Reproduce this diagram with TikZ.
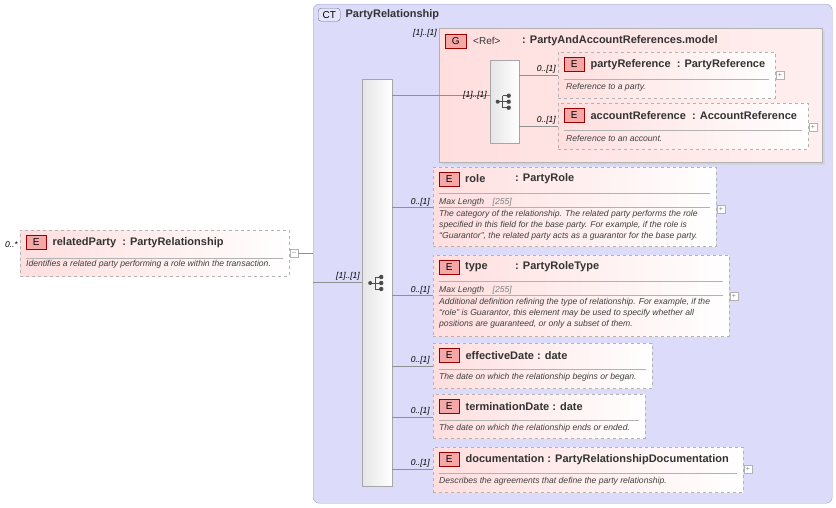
\documentclass[tikz,border=0pt]{standalone}
\usepackage{fontspec}
\setmainfont{Liberation Sans}
\usetikzlibrary{positioning,shadows}
\definecolor{ctfill}{HTML}{DCDCFA}
\definecolor{ctline}{HTML}{A0A0C8}
\definecolor{efill}{HTML}{FFDEDE}
\definecolor{badge}{HTML}{F4A8A8}
\definecolor{wire}{HTML}{909090}
\begin{document}
\begin{tikzpicture}[x=1pt,y=-1pt,
    elem/.style={rectangle, draw=gray!60, dashed, left color=efill, right color=white, anchor=north west, inner sep=0pt},
    badgebox/.style={rectangle, draw=red!60!black, fill=badge, anchor=north west, minimum width=20pt, minimum height=14pt, inner sep=0pt, font=\fontsize{10}{10}\selectfont},
    title/.style={anchor=west, inner sep=0pt, font=\bfseries\fontsize{11}{11}\selectfont, text=black!80},
    desc/.style={anchor=west, inner sep=0pt, font=\itshape\fontsize{8.6}{11}\selectfont, text=black!75},
    card/.style={anchor=east, inner sep=0pt, font=\itshape\fontsize{8.5}{8.5}\selectfont},
    seq/.style={rectangle, draw=gray!70, left color=gray!20, right color=white, anchor=north west, inner sep=0pt},
    plusbox/.style={rectangle, draw=gray!60, fill=white, minimum size=8pt, inner sep=0pt, font=\fontsize{7}{7}\selectfont, text=gray},
    hsep/.style={draw=gray!60},
    wirel/.style={draw=wire},
    seqicon/.pic={
        \fill [black!70] (-7,0) circle (2pt);
        \draw [black!70, line width=0.9pt] (-7,0) -- (-2,0) (-2,-6) -- (-2,6) (-2,-6) -- (4,-6) (-2,0) -- (4,0) (-2,6) -- (4,6);
        \foreach \yy in {-6,0,6} \fill [black!70] (4,\yy) circle (2.2pt);
    }
]
\useasboundingbox (0,0) rectangle (836,507);

% complex type container
\node [rectangle, rounded corners=6pt, draw=ctline, fill=ctfill, anchor=north west, minimum width=519pt, minimum height=499pt, inner sep=0pt] (ct) at (313,4) {};
\node [rectangle, rounded corners=3pt, draw=ctline!70!black, fill=ctfill!70, anchor=north west, minimum width=22pt, minimum height=13pt, inner sep=0pt, font=\fontsize{10}{10}\selectfont] (ctbadge) at (318,8) {CT};
\node [title, right=5pt of ctbadge] {PartyRelationship};

% related party
\node [elem, minimum width=269pt, minimum height=46pt] (rel) at (20,230) {};
\node [badgebox] (relE) at (26,235) {E};
\node [title, right=6pt of relE] {relatedParty\ \ : PartyRelationship};
\draw [hsep] (26,258) -- (283,258);
\node [desc] at (26,264) {Identifies a related party performing a role within the transaction.};
\node [card] at (18,245) {0..*};
\node [plusbox] (relminus) at (294,253) {--};
\draw [wirel] (relminus.east) -- (ct.west |- relminus);

% main sequence
\node [seq, minimum width=30pt, minimum height=407pt] (mseq) at (362,79) {};
\pic at (mseq.center |- 0,283) {seqicon};
\draw [wirel] (ct.west |- 0,282) -- (mseq.west |- 0,282);
\node [card] at (360,276) {[1]..[1]};

% group
\node [rectangle, draw=gray!60, left color=efill, right color=efill!50, anchor=north west, minimum width=383pt, minimum height=134pt, inner sep=0pt, drop shadow={shadow xshift=3pt, shadow yshift=-3pt, fill=gray!40}] (grp) at (439,28) {};
\node [card] at (437,33) {[1]..[1]};
\node [badgebox, minimum width=21pt] (grpG) at (445,34) {G};
\node [title, font=\fontsize{10}{10}\selectfont] at (473,41) {<Ref>};
\node [title] at (522,41) {: PartyAndAccountReferences.model};
\node [seq, minimum width=29pt, minimum height=83pt] (iseq) at (490,60) {};
\pic at (iseq.center) {seqicon};
\draw [wirel] (mseq.east |- 0,95) -- (iseq.west |- 0,95);
\node [card] at (487,95) {[1]..[1]};

% partyReference
\node [elem, minimum width=217pt, minimum height=46pt] (pref) at (558,52) {};
\node [badgebox] (prefE) at (564,57) {E};
\node [title, right=6pt of prefE] {partyReference\ \ : PartyReference};
\draw [hsep] (564,79) -- (769,79);
\node [desc] at (566,87) {Reference to a party.};
\node [plusbox] at (780,75) {+};
\draw [wirel] (iseq.east |- 0,75) -- (pref.west |- 0,75);
\node [card] at (556,69) {0..[1]};

% accountReference
\node [elem, minimum width=250pt, minimum height=46pt] (aref) at (558,103) {};
\node [badgebox] (arefE) at (564,108) {E};
\node [title, right=6pt of arefE] {accountReference\ \ : AccountReference};
\draw [hsep] (564,130) -- (802,130);
\node [desc] at (566,138) {Reference to an account.};
\node [plusbox] at (813,127) {+};
\draw [wirel] (iseq.east |- 0,126) -- (aref.west |- 0,126);
\node [card] at (556,120) {0..[1]};

% role
\node [elem, minimum width=283pt, minimum height=79pt] (role) at (433,167) {};
\node [badgebox] (roleE) at (439,172) {E};
\node [title] at (465,179) {role};
\node [title] at (515,179) {: PartyRole};
\draw [hsep] (439,193) -- (710,193);
\node [desc] at (439,202) {Max Length\quad \textcolor{gray}{[255]}};
\draw [hsep] (439,207) -- (710,207);
\node [desc, align=left, anchor=north west] at (439,210) {The category of the relationship. The related party performs the role\\specified in this field for the base party. For example, if the role is\\``Guarantor'', the related party acts as a guarantor for the base party.};
\node [plusbox] at (721,209) {+};
\draw [wirel] (mseq.east |- 0,207) -- (role.west |- 0,207);
\node [card] at (430,202) {0..[1]};

% type
\node [elem, minimum width=296pt, minimum height=81pt] (type) at (433,255) {};
\node [badgebox] (typeE) at (439,260) {E};
\node [title] at (465,267) {type};
\node [title] at (515,267) {: PartyRoleType};
\draw [hsep] (439,281) -- (723,281);
\node [desc] at (439,290) {Max Length\quad \textcolor{gray}{[255]}};
\draw [hsep] (439,295) -- (723,295);
\node [desc, align=left, anchor=north west] at (439,298) {Additional definition refining the type of relationship. For example, if the\\``role'' is Guarantor, this element may be used to specify whether all\\positions are guaranteed, or only a subset of them.};
\node [plusbox] at (734,296) {+};
\draw [wirel] (mseq.east |- 0,295) -- (type.west |- 0,295);
\node [card] at (430,290) {0..[1]};

% effectiveDate
\node [elem, minimum width=219pt, minimum height=45pt] (eff) at (433,343) {};
\node [badgebox] (effE) at (439,348) {E};
\node [title, right=6pt of effE] {effectiveDate\ : date};
\draw [hsep] (439,369) -- (646,369);
\node [desc] at (439,377) {The date on which the relationship begins or began.};
\draw [wirel] (mseq.east |- 0,366) -- (eff.west |- 0,366);
\node [card] at (430,360) {0..[1]};

% terminationDate
\node [elem, minimum width=212pt, minimum height=44pt] (term) at (433,394) {};
\node [badgebox] (termE) at (439,399) {E};
\node [title, right=6pt of termE] {terminationDate\ : date};
\draw [hsep] (439,420) -- (639,420);
\node [desc] at (439,428) {The date on which the relationship ends or ended.};
\draw [wirel] (mseq.east |- 0,417) -- (term.west |- 0,417);
\node [card] at (430,411) {0..[1]};

% documentation
\node [elem, minimum width=310pt, minimum height=45pt] (doc) at (433,447) {};
\node [badgebox] (docE) at (439,452) {E};
\node [title, right=6pt of docE] {documentation\ : PartyRelationshipDocumentation};
\draw [hsep] (439,473) -- (737,473);
\node [desc] at (439,481) {Describes the agreements that define the party relationship.};
\node [plusbox] at (748,469) {+};
\draw [wirel] (mseq.east |- 0,469) -- (doc.west |- 0,469);
\node [card] at (430,463) {0..[1]};
\end{tikzpicture}
\end{document}
